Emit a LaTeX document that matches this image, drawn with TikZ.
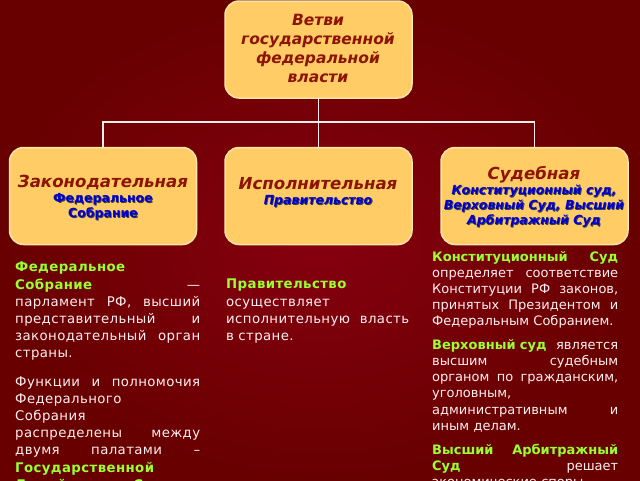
\documentclass[tikz,border=0pt]{standalone}
\usepackage{fontspec}
\setmainfont{DejaVu Sans}
\definecolor{bgIn}{RGB}{134,0,16}
\definecolor{bgOut}{RGB}{104,0,0}
\definecolor{boxfill}{RGB}{255,204,102}
\definecolor{boxedge}{RGB}{255,228,170}
\definecolor{ttl}{RGB}{140,20,0}
\definecolor{sub}{RGB}{0,0,210}
\definecolor{grn}{RGB}{153,255,51}
\definecolor{txt}{RGB}{255,240,240}
\definecolor{lnk}{RGB}{255,235,235}
\newcommand{\shd}[1]{\makebox[0pt][l]{\hspace{0.9pt}\raisebox{-0.9pt}{\color{black!75}#1}}#1}
\newcommand{\gb}[1]{\textcolor{grn}{\textbf{#1}}}
\newcommand{\jj}{\hspace{0.25em plus 1fill}}
\begin{document}
\begin{tikzpicture}[x=1pt,y=-1pt,
 branch/.style={rounded corners=14pt, fill=boxfill, draw=boxedge, line width=1.5pt, minimum width=187pt, minimum height=97pt, inner sep=0pt},
 ttltext/.style={text=ttl, font=\fontsize{16.6}{19}\selectfont\bfseries\itshape, inner sep=0pt, align=center},
 toptext/.style={text=ttl, font=\fontsize{15.5}{19}\selectfont\bfseries\itshape, inner sep=0pt, align=center},
 subtext/.style={text=sub, font=\fontsize{12.5}{15}\selectfont\bfseries, inner sep=0pt, align=center},
 subital/.style={subtext, font=\fontsize{12.5}{15}\selectfont\bfseries\itshape},
 body/.style={text=txt, anchor=north west, inner sep=0pt, align=left, font=\fontsize{13.3}{17.2}\selectfont\addfontfeatures{LetterSpace=3}},
 bodyr/.style={text=txt, anchor=north west, inner sep=0pt, align=left, font=\fontsize{13}{16.1}\selectfont},
 link/.style={draw=lnk, line width=1.6pt}
]
\useasboundingbox (0,0) rectangle (640,480);
\clip (0,0) rectangle (640,480);
\shade[inner color=bgIn, outer color=bgOut] (0,0) rectangle (640,480);

\node[branch] (top) at (318.5,49.5) {};
\node[branch] (left) at (103,196) {};
\node[branch] (mid) at (318.5,196) {};
\node[branch] (right) at (534.5,196) {};

\coordinate (j) at (318.5,122);
\draw[link] (top.south) -- (j);
\draw[link] (j) -- (mid.north);
\draw[link] (left.north) |- (j) -| (right.north);

\node[toptext] (toptitle) at (318,48) {Ветви\\государственной\\федеральной\\власти};

\node[ttltext] (lefttitle) at (103,182) {Законодательная};
\node[subtext] (leftsub) at (103,207) {\shd{Федеральное}\\\shd{Собрание}};

\node[ttltext] (midtitle) at (318,184) {Исполнительная};
\node[subital] (midsub) at (318,202) {\shd{Правительство}};

\node[ttltext] (righttitle) at (534,175) {Судебная};
\node[subital] (rightsub) at (534,207) {\shd{Конституционный суд,}\\\shd{Верховный Суд, Высший}\\\shd{Арбитражный Суд}};

\node[body, text width=185pt] (lefttext) at (15,262) {%
\gb{Федеральное}\\
\gb{Собрание}\jj —\\
парламент\jj РФ,\jj высший\\
представительный\jj и\\
законодательный\jj орган\\
страны.\\[11pt]
Функции\jj и\jj полномочия\\
Федерального\\
Собрания\\
распределены\jj между\\
двумя\jj палатами\jj –\\
\gb{Государственной}\\
\gb{Думой}\jj и\jj \gb{Советом}};

\node[body, text width=183pt] (midtext) at (226,279) {%
\gb{Правительство}\\
осуществляет\\
исполнительную\jj власть\\
в стране.};

\node[bodyr, text width=186pt] (righttext) at (432,251) {%
\gb{Конституционный}\jj\gb{Суд}\\
определяет\jj соответствие\\
Конституции\jj РФ\jj законов,\\
принятых\jj Президентом\jj и\\
Федеральным Собранием.\\[8pt]
\gb{Верховный суд}\jj является\\
высшим\jj судебным\\
органом\jj по\jj гражданским,\\
уголовным,\\
административным\jj и\\
иным делам.\\[8pt]
\gb{Высший}\jj\gb{Арбитражный}\\
\gb{Суд}\jj решает\\
экономические споры};
\end{tikzpicture}
\end{document}
